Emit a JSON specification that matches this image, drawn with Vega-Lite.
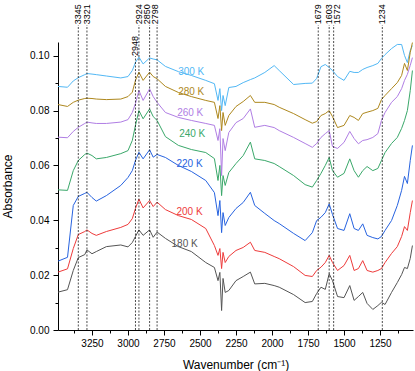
{
"$schema": "https://vega.github.io/schema/vega-lite/v6.json",
"width": 355, "height": 288,
"autosize": "none",
"padding": {"left": 58, "top": 42, "right": 2, "bottom": 41},
"config": {"view": {"stroke": null}, "font": "Liberation Sans",
 "axis": {"grid": false, "domainColor": "black", "labelColor": "black", "titleColor": "black", "labelFontSize": 10, "titleFontSize": 12, "titleFontWeight": "normal"}},
"resolve": {"axis": {"x": "independent", "y": "independent"}},
"datasets": {
"spectra": [
{"T":"300 K","w":3486,"a":0.0888},{"T":"300 K","w":3420,"a":0.0885},{"T":"300 K","w":3380,"a":0.0908},{"T":"300 K","w":3345,"a":0.0920},{"T":"300 K","w":3300,"a":0.0931},{"T":"300 K","w":3285,"a":0.0935},{"T":"300 K","w":3250,"a":0.0933},{"T":"300 K","w":3220,"a":0.0931},{"T":"300 K","w":3150,"a":0.0926},{"T":"300 K","w":3050,"a":0.0919},{"T":"300 K","w":3000,"a":0.0924},{"T":"300 K","w":2970,"a":0.0946},{"T":"300 K","w":2948,"a":0.0976},{"T":"300 K","w":2924,"a":0.0995},{"T":"300 K","w":2895,"a":0.0970},{"T":"300 K","w":2850,"a":0.0992},{"T":"300 K","w":2825,"a":0.0988},{"T":"300 K","w":2798,"a":0.0985},{"T":"300 K","w":2740,"a":0.0961},{"T":"300 K","w":2650,"a":0.0942},{"T":"300 K","w":2560,"a":0.0928},{"T":"300 K","w":2460,"a":0.0910},{"T":"300 K","w":2400,"a":0.0898},{"T":"300 K","w":2375,"a":0.0837},{"T":"300 K","w":2362,"a":0.0880},{"T":"300 K","w":2350,"a":0.0800},{"T":"300 K","w":2340,"a":0.0855},{"T":"300 K","w":2325,"a":0.0818},{"T":"300 K","w":2300,"a":0.0884},{"T":"300 K","w":2250,"a":0.0888},{"T":"300 K","w":2200,"a":0.0902},{"T":"300 K","w":2150,"a":0.0913},{"T":"300 K","w":2120,"a":0.0919},{"T":"300 K","w":2050,"a":0.0939},{"T":"300 K","w":1985,"a":0.0964},{"T":"300 K","w":1950,"a":0.0946},{"T":"300 K","w":1850,"a":0.0895},{"T":"300 K","w":1770,"a":0.0899},{"T":"300 K","w":1720,"a":0.0900},{"T":"300 K","w":1690,"a":0.0917},{"T":"300 K","w":1660,"a":0.0960},{"T":"300 K","w":1630,"a":0.0968},{"T":"300 K","w":1603,"a":0.0957},{"T":"300 K","w":1580,"a":0.0946},{"T":"300 K","w":1545,"a":0.0924},{"T":"300 K","w":1500,"a":0.0910},{"T":"300 K","w":1460,"a":0.0943},{"T":"300 K","w":1430,"a":0.0939},{"T":"300 K","w":1400,"a":0.0939},{"T":"300 K","w":1370,"a":0.0950},{"T":"300 K","w":1340,"a":0.0957},{"T":"300 K","w":1300,"a":0.0964},{"T":"300 K","w":1265,"a":0.0972},{"T":"300 K","w":1240,"a":0.0990},{"T":"300 K","w":1215,"a":0.1004},{"T":"300 K","w":1170,"a":0.1026},{"T":"300 K","w":1130,"a":0.1041},{"T":"300 K","w":1100,"a":0.1041},{"T":"300 K","w":1080,"a":0.1001},{"T":"300 K","w":1060,"a":0.0975},{"T":"300 K","w":1040,"a":0.1019},{"T":"300 K","w":1025,"a":0.1037},
{"T":"280 K","w":3486,"a":0.0822},{"T":"280 K","w":3420,"a":0.0815},{"T":"280 K","w":3380,"a":0.0830},{"T":"280 K","w":3345,"a":0.0838},{"T":"280 K","w":3300,"a":0.0844},{"T":"280 K","w":3285,"a":0.0845},{"T":"280 K","w":3250,"a":0.0844},{"T":"280 K","w":3220,"a":0.0842},{"T":"280 K","w":3150,"a":0.0840},{"T":"280 K","w":3050,"a":0.0842},{"T":"280 K","w":3000,"a":0.0851},{"T":"280 K","w":2970,"a":0.0867},{"T":"280 K","w":2948,"a":0.0910},{"T":"280 K","w":2924,"a":0.0940},{"T":"280 K","w":2895,"a":0.0910},{"T":"280 K","w":2850,"a":0.0940},{"T":"280 K","w":2825,"a":0.0924},{"T":"280 K","w":2798,"a":0.0916},{"T":"280 K","w":2740,"a":0.0888},{"T":"280 K","w":2650,"a":0.0866},{"T":"280 K","w":2560,"a":0.0851},{"T":"280 K","w":2460,"a":0.0837},{"T":"280 K","w":2400,"a":0.0830},{"T":"280 K","w":2375,"a":0.0771},{"T":"280 K","w":2362,"a":0.0818},{"T":"280 K","w":2350,"a":0.0727},{"T":"280 K","w":2340,"a":0.0793},{"T":"280 K","w":2325,"a":0.0746},{"T":"280 K","w":2300,"a":0.0782},{"T":"280 K","w":2250,"a":0.0815},{"T":"280 K","w":2200,"a":0.0833},{"T":"280 K","w":2150,"a":0.0855},{"T":"280 K","w":2120,"a":0.0830},{"T":"280 K","w":2050,"a":0.0830},{"T":"280 K","w":1985,"a":0.0822},{"T":"280 K","w":1950,"a":0.0812},{"T":"280 K","w":1850,"a":0.0789},{"T":"280 K","w":1770,"a":0.0767},{"T":"280 K","w":1720,"a":0.0754},{"T":"280 K","w":1690,"a":0.0760},{"T":"280 K","w":1660,"a":0.0782},{"T":"280 K","w":1630,"a":0.0789},{"T":"280 K","w":1603,"a":0.0800},{"T":"280 K","w":1580,"a":0.0778},{"T":"280 K","w":1545,"a":0.0738},{"T":"280 K","w":1500,"a":0.0746},{"T":"280 K","w":1460,"a":0.0782},{"T":"280 K","w":1430,"a":0.0775},{"T":"280 K","w":1400,"a":0.0764},{"T":"280 K","w":1370,"a":0.0789},{"T":"280 K","w":1340,"a":0.0794},{"T":"280 K","w":1300,"a":0.0800},{"T":"280 K","w":1265,"a":0.0808},{"T":"280 K","w":1240,"a":0.0840},{"T":"280 K","w":1215,"a":0.0855},{"T":"280 K","w":1170,"a":0.0880},{"T":"280 K","w":1130,"a":0.0902},{"T":"280 K","w":1100,"a":0.0928},{"T":"280 K","w":1080,"a":0.0972},{"T":"280 K","w":1060,"a":0.0946},{"T":"280 K","w":1040,"a":0.1012},{"T":"280 K","w":1025,"a":0.1048},
{"T":"260 K","w":3486,"a":0.0703},{"T":"260 K","w":3420,"a":0.0701},{"T":"260 K","w":3380,"a":0.0724},{"T":"260 K","w":3345,"a":0.0739},{"T":"260 K","w":3300,"a":0.0753},{"T":"260 K","w":3285,"a":0.0758},{"T":"260 K","w":3250,"a":0.0755},{"T":"260 K","w":3220,"a":0.0753},{"T":"260 K","w":3150,"a":0.0753},{"T":"260 K","w":3050,"a":0.0758},{"T":"260 K","w":3000,"a":0.0767},{"T":"260 K","w":2970,"a":0.0793},{"T":"260 K","w":2948,"a":0.0826},{"T":"260 K","w":2924,"a":0.0873},{"T":"260 K","w":2895,"a":0.0837},{"T":"260 K","w":2850,"a":0.0879},{"T":"260 K","w":2825,"a":0.0851},{"T":"260 K","w":2798,"a":0.0830},{"T":"260 K","w":2740,"a":0.0793},{"T":"260 K","w":2650,"a":0.0775},{"T":"260 K","w":2560,"a":0.0764},{"T":"260 K","w":2460,"a":0.0753},{"T":"260 K","w":2400,"a":0.0746},{"T":"260 K","w":2375,"a":0.0691},{"T":"260 K","w":2362,"a":0.0734},{"T":"260 K","w":2350,"a":0.0563},{"T":"260 K","w":2340,"a":0.0698},{"T":"260 K","w":2325,"a":0.0654},{"T":"260 K","w":2300,"a":0.0720},{"T":"260 K","w":2250,"a":0.0756},{"T":"260 K","w":2200,"a":0.0771},{"T":"260 K","w":2150,"a":0.0806},{"T":"260 K","w":2120,"a":0.0739},{"T":"260 K","w":2050,"a":0.0746},{"T":"260 K","w":1985,"a":0.0738},{"T":"260 K","w":1950,"a":0.0727},{"T":"260 K","w":1850,"a":0.0702},{"T":"260 K","w":1770,"a":0.0680},{"T":"260 K","w":1720,"a":0.0666},{"T":"260 K","w":1690,"a":0.0680},{"T":"260 K","w":1660,"a":0.0702},{"T":"260 K","w":1630,"a":0.0716},{"T":"260 K","w":1603,"a":0.0727},{"T":"260 K","w":1580,"a":0.0669},{"T":"260 K","w":1545,"a":0.0662},{"T":"260 K","w":1500,"a":0.0684},{"T":"260 K","w":1460,"a":0.0724},{"T":"260 K","w":1430,"a":0.0698},{"T":"260 K","w":1400,"a":0.0679},{"T":"260 K","w":1370,"a":0.0691},{"T":"260 K","w":1340,"a":0.0694},{"T":"260 K","w":1300,"a":0.0702},{"T":"260 K","w":1265,"a":0.0716},{"T":"260 K","w":1240,"a":0.0764},{"T":"260 K","w":1215,"a":0.0793},{"T":"260 K","w":1170,"a":0.0830},{"T":"260 K","w":1130,"a":0.0851},{"T":"260 K","w":1100,"a":0.0880},{"T":"260 K","w":1080,"a":0.0910},{"T":"260 K","w":1060,"a":0.0932},{"T":"260 K","w":1040,"a":0.0965},{"T":"260 K","w":1025,"a":0.0993},
{"T":"240 K","w":3486,"a":0.0511},{"T":"240 K","w":3420,"a":0.0509},{"T":"240 K","w":3380,"a":0.0581},{"T":"240 K","w":3345,"a":0.0618},{"T":"240 K","w":3300,"a":0.0640},{"T":"240 K","w":3285,"a":0.0645},{"T":"240 K","w":3250,"a":0.0636},{"T":"240 K","w":3220,"a":0.0624},{"T":"240 K","w":3150,"a":0.0629},{"T":"240 K","w":3050,"a":0.0643},{"T":"240 K","w":3000,"a":0.0654},{"T":"240 K","w":2970,"a":0.0691},{"T":"240 K","w":2948,"a":0.0746},{"T":"240 K","w":2924,"a":0.0800},{"T":"240 K","w":2895,"a":0.0770},{"T":"240 K","w":2850,"a":0.0806},{"T":"240 K","w":2825,"a":0.0778},{"T":"240 K","w":2798,"a":0.0764},{"T":"240 K","w":2740,"a":0.0705},{"T":"240 K","w":2650,"a":0.0673},{"T":"240 K","w":2560,"a":0.0658},{"T":"240 K","w":2460,"a":0.0647},{"T":"240 K","w":2400,"a":0.0625},{"T":"240 K","w":2375,"a":0.0545},{"T":"240 K","w":2362,"a":0.0600},{"T":"240 K","w":2350,"a":0.0490},{"T":"240 K","w":2340,"a":0.0563},{"T":"240 K","w":2325,"a":0.0527},{"T":"240 K","w":2300,"a":0.0574},{"T":"240 K","w":2250,"a":0.0607},{"T":"240 K","w":2200,"a":0.0636},{"T":"240 K","w":2150,"a":0.0685},{"T":"240 K","w":2120,"a":0.0624},{"T":"240 K","w":2050,"a":0.0618},{"T":"240 K","w":1985,"a":0.0607},{"T":"240 K","w":1950,"a":0.0596},{"T":"240 K","w":1850,"a":0.0563},{"T":"240 K","w":1770,"a":0.0530},{"T":"240 K","w":1720,"a":0.0521},{"T":"240 K","w":1690,"a":0.0545},{"T":"240 K","w":1660,"a":0.0571},{"T":"240 K","w":1630,"a":0.0600},{"T":"240 K","w":1603,"a":0.0629},{"T":"240 K","w":1580,"a":0.0581},{"T":"240 K","w":1545,"a":0.0557},{"T":"240 K","w":1500,"a":0.0571},{"T":"240 K","w":1460,"a":0.0624},{"T":"240 K","w":1430,"a":0.0581},{"T":"240 K","w":1400,"a":0.0557},{"T":"240 K","w":1370,"a":0.0581},{"T":"240 K","w":1340,"a":0.0596},{"T":"240 K","w":1300,"a":0.0581},{"T":"240 K","w":1265,"a":0.0589},{"T":"240 K","w":1240,"a":0.0618},{"T":"240 K","w":1215,"a":0.0647},{"T":"240 K","w":1170,"a":0.0680},{"T":"240 K","w":1130,"a":0.0702},{"T":"240 K","w":1100,"a":0.0735},{"T":"240 K","w":1080,"a":0.0764},{"T":"240 K","w":1060,"a":0.0800},{"T":"240 K","w":1040,"a":0.0873},{"T":"240 K","w":1025,"a":0.0946},
{"T":"220 K","w":3486,"a":0.0251},{"T":"220 K","w":3420,"a":0.0265},{"T":"220 K","w":3380,"a":0.0454},{"T":"220 K","w":3345,"a":0.0487},{"T":"220 K","w":3300,"a":0.0498},{"T":"220 K","w":3285,"a":0.0502},{"T":"220 K","w":3250,"a":0.0483},{"T":"220 K","w":3220,"a":0.0470},{"T":"220 K","w":3150,"a":0.0490},{"T":"220 K","w":3050,"a":0.0527},{"T":"220 K","w":3000,"a":0.0556},{"T":"220 K","w":2970,"a":0.0581},{"T":"220 K","w":2948,"a":0.0618},{"T":"220 K","w":2924,"a":0.0648},{"T":"220 K","w":2895,"a":0.0624},{"T":"220 K","w":2850,"a":0.0657},{"T":"220 K","w":2825,"a":0.0630},{"T":"220 K","w":2798,"a":0.0640},{"T":"220 K","w":2740,"a":0.0629},{"T":"220 K","w":2650,"a":0.0600},{"T":"220 K","w":2560,"a":0.0578},{"T":"220 K","w":2460,"a":0.0545},{"T":"220 K","w":2400,"a":0.0501},{"T":"220 K","w":2375,"a":0.0417},{"T":"220 K","w":2362,"a":0.0472},{"T":"220 K","w":2350,"a":0.0355},{"T":"220 K","w":2340,"a":0.0428},{"T":"220 K","w":2325,"a":0.0381},{"T":"220 K","w":2300,"a":0.0410},{"T":"220 K","w":2250,"a":0.0443},{"T":"220 K","w":2200,"a":0.0465},{"T":"220 K","w":2150,"a":0.0502},{"T":"220 K","w":2120,"a":0.0454},{"T":"220 K","w":2050,"a":0.0425},{"T":"220 K","w":1985,"a":0.0399},{"T":"220 K","w":1950,"a":0.0388},{"T":"220 K","w":1850,"a":0.0352},{"T":"220 K","w":1770,"a":0.0326},{"T":"220 K","w":1720,"a":0.0355},{"T":"220 K","w":1690,"a":0.0399},{"T":"220 K","w":1660,"a":0.0411},{"T":"220 K","w":1630,"a":0.0428},{"T":"220 K","w":1603,"a":0.0460},{"T":"220 K","w":1580,"a":0.0421},{"T":"220 K","w":1545,"a":0.0370},{"T":"220 K","w":1500,"a":0.0363},{"T":"220 K","w":1460,"a":0.0424},{"T":"220 K","w":1430,"a":0.0370},{"T":"220 K","w":1400,"a":0.0363},{"T":"220 K","w":1370,"a":0.0387},{"T":"220 K","w":1340,"a":0.0345},{"T":"220 K","w":1300,"a":0.0337},{"T":"220 K","w":1265,"a":0.0332},{"T":"220 K","w":1240,"a":0.0341},{"T":"220 K","w":1215,"a":0.0363},{"T":"220 K","w":1170,"a":0.0399},{"T":"220 K","w":1130,"a":0.0454},{"T":"220 K","w":1100,"a":0.0509},{"T":"220 K","w":1080,"a":0.0560},{"T":"220 K","w":1060,"a":0.0534},{"T":"220 K","w":1040,"a":0.0618},{"T":"220 K","w":1025,"a":0.0673},
{"T":"200 K","w":3486,"a":0.0211},{"T":"200 K","w":3420,"a":0.0223},{"T":"200 K","w":3380,"a":0.0297},{"T":"200 K","w":3345,"a":0.0348},{"T":"200 K","w":3300,"a":0.0359},{"T":"200 K","w":3285,"a":0.0365},{"T":"200 K","w":3250,"a":0.0352},{"T":"200 K","w":3220,"a":0.0345},{"T":"200 K","w":3150,"a":0.0359},{"T":"200 K","w":3050,"a":0.0374},{"T":"200 K","w":3000,"a":0.0385},{"T":"200 K","w":2970,"a":0.0406},{"T":"200 K","w":2948,"a":0.0443},{"T":"200 K","w":2924,"a":0.0477},{"T":"200 K","w":2895,"a":0.0445},{"T":"200 K","w":2850,"a":0.0472},{"T":"200 K","w":2825,"a":0.0450},{"T":"200 K","w":2798,"a":0.0466},{"T":"200 K","w":2740,"a":0.0439},{"T":"200 K","w":2650,"a":0.0417},{"T":"200 K","w":2560,"a":0.0403},{"T":"200 K","w":2460,"a":0.0370},{"T":"200 K","w":2400,"a":0.0308},{"T":"200 K","w":2375,"a":0.0272},{"T":"200 K","w":2362,"a":0.0297},{"T":"200 K","w":2350,"a":0.0224},{"T":"200 K","w":2340,"a":0.0283},{"T":"200 K","w":2325,"a":0.0246},{"T":"200 K","w":2300,"a":0.0268},{"T":"200 K","w":2250,"a":0.0290},{"T":"200 K","w":2200,"a":0.0301},{"T":"200 K","w":2150,"a":0.0320},{"T":"200 K","w":2120,"a":0.0290},{"T":"200 K","w":2050,"a":0.0283},{"T":"200 K","w":1985,"a":0.0268},{"T":"200 K","w":1950,"a":0.0260},{"T":"200 K","w":1850,"a":0.0231},{"T":"200 K","w":1770,"a":0.0199},{"T":"200 K","w":1720,"a":0.0195},{"T":"200 K","w":1690,"a":0.0217},{"T":"200 K","w":1660,"a":0.0229},{"T":"200 K","w":1630,"a":0.0246},{"T":"200 K","w":1603,"a":0.0272},{"T":"200 K","w":1580,"a":0.0246},{"T":"200 K","w":1545,"a":0.0217},{"T":"200 K","w":1500,"a":0.0235},{"T":"200 K","w":1460,"a":0.0272},{"T":"200 K","w":1430,"a":0.0217},{"T":"200 K","w":1400,"a":0.0224},{"T":"200 K","w":1370,"a":0.0253},{"T":"200 K","w":1340,"a":0.0217},{"T":"200 K","w":1300,"a":0.0211},{"T":"200 K","w":1265,"a":0.0217},{"T":"200 K","w":1240,"a":0.0224},{"T":"200 K","w":1215,"a":0.0246},{"T":"200 K","w":1170,"a":0.0279},{"T":"200 K","w":1130,"a":0.0304},{"T":"200 K","w":1100,"a":0.0341},{"T":"200 K","w":1080,"a":0.0377},{"T":"200 K","w":1060,"a":0.0363},{"T":"200 K","w":1040,"a":0.0428},{"T":"200 K","w":1025,"a":0.0472},
{"T":"180 K","w":3486,"a":0.0138},{"T":"180 K","w":3420,"a":0.0147},{"T":"180 K","w":3380,"a":0.0217},{"T":"180 K","w":3345,"a":0.0264},{"T":"180 K","w":3300,"a":0.0275},{"T":"180 K","w":3285,"a":0.0292},{"T":"180 K","w":3250,"a":0.0278},{"T":"180 K","w":3220,"a":0.0286},{"T":"180 K","w":3150,"a":0.0304},{"T":"180 K","w":3050,"a":0.0310},{"T":"180 K","w":3000,"a":0.0303},{"T":"180 K","w":2970,"a":0.0319},{"T":"180 K","w":2948,"a":0.0341},{"T":"180 K","w":2924,"a":0.0365},{"T":"180 K","w":2895,"a":0.0345},{"T":"180 K","w":2850,"a":0.0365},{"T":"180 K","w":2825,"a":0.0338},{"T":"180 K","w":2798,"a":0.0357},{"T":"180 K","w":2740,"a":0.0334},{"T":"180 K","w":2650,"a":0.0304},{"T":"180 K","w":2560,"a":0.0286},{"T":"180 K","w":2460,"a":0.0246},{"T":"180 K","w":2400,"a":0.0228},{"T":"180 K","w":2375,"a":0.0180},{"T":"180 K","w":2362,"a":0.0210},{"T":"180 K","w":2350,"a":0.0071},{"T":"180 K","w":2340,"a":0.0188},{"T":"180 K","w":2325,"a":0.0137},{"T":"180 K","w":2300,"a":0.0144},{"T":"180 K","w":2250,"a":0.0180},{"T":"180 K","w":2200,"a":0.0195},{"T":"180 K","w":2150,"a":0.0211},{"T":"180 K","w":2120,"a":0.0168},{"T":"180 K","w":2050,"a":0.0170},{"T":"180 K","w":1985,"a":0.0162},{"T":"180 K","w":1950,"a":0.0156},{"T":"180 K","w":1850,"a":0.0129},{"T":"180 K","w":1770,"a":0.0100},{"T":"180 K","w":1720,"a":0.0104},{"T":"180 K","w":1690,"a":0.0133},{"T":"180 K","w":1660,"a":0.0156},{"T":"180 K","w":1630,"a":0.0148},{"T":"180 K","w":1603,"a":0.0205},{"T":"180 K","w":1580,"a":0.0180},{"T":"180 K","w":1545,"a":0.0122},{"T":"180 K","w":1500,"a":0.0118},{"T":"180 K","w":1460,"a":0.0162},{"T":"180 K","w":1430,"a":0.0108},{"T":"180 K","w":1400,"a":0.0122},{"T":"180 K","w":1370,"a":0.0137},{"T":"180 K","w":1340,"a":0.0097},{"T":"180 K","w":1300,"a":0.0075},{"T":"180 K","w":1265,"a":0.0089},{"T":"180 K","w":1240,"a":0.0101},{"T":"180 K","w":1215,"a":0.0093},{"T":"180 K","w":1170,"a":0.0137},{"T":"180 K","w":1130,"a":0.0173},{"T":"180 K","w":1100,"a":0.0202},{"T":"180 K","w":1080,"a":0.0228},{"T":"180 K","w":1060,"a":0.0224},{"T":"180 K","w":1040,"a":0.0261},{"T":"180 K","w":1025,"a":0.0308}
],
"bands": [
{"label":"3345","w":3345},{"label":"3321","w":3285},{"label":"2948","w":2948},{"label":"2924","w":2924},{"label":"2850","w":2850},{"label":"2798","w":2798},{"label":"1679","w":1679},{"label":"1603","w":1603},{"label":"1572","w":1572},{"label":"1234","w":1234}
],
"tags": [
{"T":"300 K","w":2561,"a":0.0939},{"T":"280 K","w":2561,"a":0.0869},{"T":"260 K","w":2568,"a":0.0792},{"T":"240 K","w":2554,"a":0.0713},{"T":"220 K","w":2573,"a":0.0605},{"T":"200 K","w":2573,"a":0.0429},{"T":"180 K","w":2607,"a":0.0314}
]
},
"layer": [
{"data": {"name": "spectra"},
 "mark": {"type": "line", "strokeWidth": 1, "interpolate": "linear"},
 "encoding": {
  "x": {"field": "w", "type": "quantitative", "scale": {"domain": [1021, 3486], "reverse": true, "nice": false, "zero": false},
    "axis": {"orient": "bottom", "title": "Wavenumber (cm⁻¹)", "values": [1250,1500,1750,2000,2250,2500,2750,3000,3250], "format": "d",
      "ticks": true, "tickSize": 5, "tickColor": "#000000", "tickOpacity": 1, "tickWidth": 1,
      "labels": true, "labelOpacity": 1, "labelPadding": 3, "titlePadding": 11}},
  "y": {"field": "a", "type": "quantitative", "scale": {"domain": [0, 0.105], "nice": false, "zero": true},
    "axis": {"orient": "left", "title": "Absorbance", "values": [0,0.02,0.04,0.06,0.08,0.1], "format": ".2f",
      "ticks": true, "tickSize": 5, "tickColor": "#000000", "tickOpacity": 1, "tickWidth": 1,
      "labelPadding": 4, "titlePadding": 15}},
  "color": {"field": "T", "type": "nominal", "legend": null,
    "scale": {"domain": ["300 K","280 K","260 K","240 K","220 K","200 K","180 K"], "range": ["#52B8F5","#AE881E","#B07EE4","#3AA86A","#2763E0","#EE3B3B","#555555"]}}
 }},
{"data": {"name": "bands"}, "transform": [{"filter": "datum.label != '2948'"}],
 "mark": {"type": "rule", "strokeDash": [2, 1.5], "color": "black", "strokeWidth": 0.7},
 "encoding": {
  "x": {"field": "w", "type": "quantitative",
    "axis": {"orient": "bottom", "title": null, "values": [1125,1375,1625,1875,2125,2375,2625,2875,3125,3375], "labels": false, "domain": false,
      "ticks": true, "tickSize": 3, "tickColor": "#000000", "tickOpacity": 1, "tickWidth": 1}},
  "y": {"datum": 0, "type": "quantitative",
    "axis": {"orient": "left", "title": null, "values": [0.01,0.03,0.05,0.07,0.09], "labels": false, "domain": false,
      "ticks": true, "tickSize": 3, "tickColor": "#000000", "tickOpacity": 1, "tickWidth": 1}},
  "y2": {"datum": 0.1112}}},
{"data": {"name": "bands"}, "transform": [{"filter": "datum.label == '2948'"}],
 "mark": {"type": "rule", "strokeDash": [2, 1.5], "color": "black", "strokeWidth": 0.7},
 "encoding": {"x": {"field": "w", "type": "quantitative", "axis": null}, "y": {"datum": 0, "type": "quantitative", "axis": null}, "y2": {"datum": 0.0999}}},
{"data": {"name": "bands"}, "transform": [{"filter": "datum.label != '2948' && datum.label != '2798' && datum.label != '2850' && datum.label != '1572'"}],
 "mark": {"type": "text", "angle": 270, "align": "right", "baseline": "middle", "fontSize": 9, "color": "black"},
 "encoding": {"x": {"field": "w", "type": "quantitative", "axis": null}, "y": {"datum": 0.1188, "type": "quantitative", "axis": null}, "text": {"field": "label"}}},
{"data": {"name": "bands"}, "transform": [{"filter": "datum.label == '2798' || datum.label == '2850'"}],
 "mark": {"type": "text", "angle": 270, "align": "right", "baseline": "middle", "fontSize": 9, "color": "black", "dy": -2.5},
 "encoding": {"x": {"field": "w", "type": "quantitative", "axis": null}, "y": {"datum": 0.1188, "type": "quantitative", "axis": null}, "text": {"field": "label"}}},
{"data": {"name": "bands"}, "transform": [{"filter": "datum.label == '1572'"}],
 "mark": {"type": "text", "angle": 270, "align": "right", "baseline": "middle", "fontSize": 9, "color": "black", "dy": 3},
 "encoding": {"x": {"field": "w", "type": "quantitative", "axis": null}, "y": {"datum": 0.1188, "type": "quantitative", "axis": null}, "text": {"field": "label"}}},
{"data": {"name": "bands"}, "transform": [{"filter": "datum.label == '2948'"}],
 "mark": {"type": "text", "angle": 270, "align": "right", "baseline": "middle", "fontSize": 9, "color": "black"},
 "encoding": {"x": {"field": "w", "type": "quantitative", "axis": null}, "y": {"datum": 0.1072, "type": "quantitative", "axis": null}, "text": {"field": "label"}}},
{"data": {"name": "tags"},
 "mark": {"type": "text", "align": "center", "baseline": "middle", "fontSize": 10},
 "encoding": {"x": {"field": "w", "type": "quantitative", "axis": null}, "y": {"field": "a", "type": "quantitative", "axis": null}, "text": {"field": "T"},
   "color": {"field": "T", "type": "nominal", "legend": null}}}
]
}
